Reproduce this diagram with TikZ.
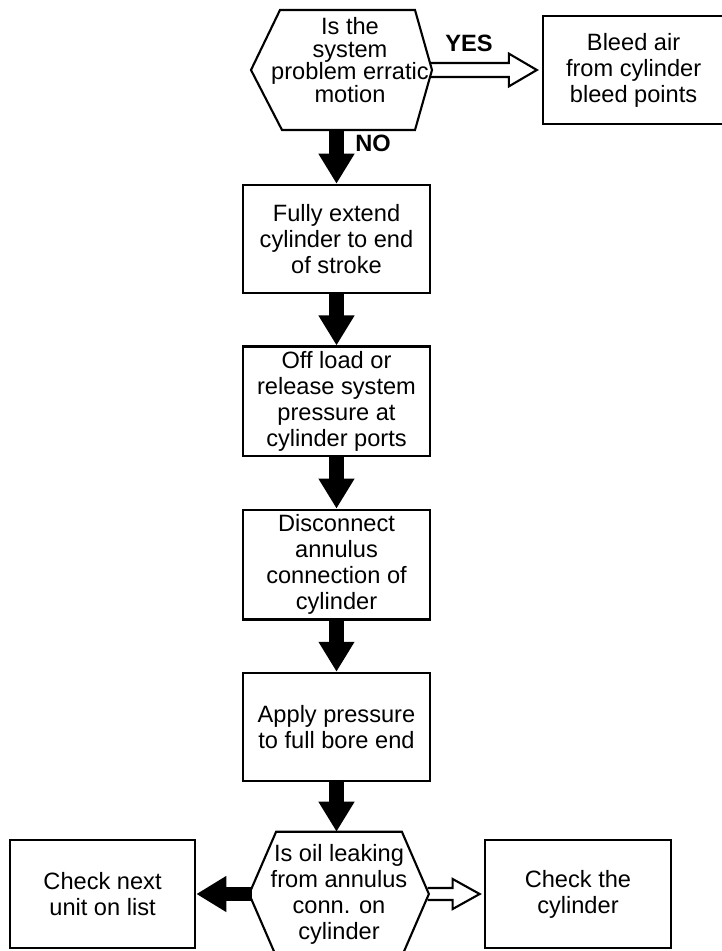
\documentclass[tikz,border=0pt]{standalone}
\usepackage{fontspec}
\setmainfont{Liberation Sans}
\usetikzlibrary{positioning, arrows.meta, calc}

\begin{document}
\begin{tikzpicture}
  \tikzset{
    stepbox/.style={
      draw,
      line width=1.8pt,
      minimum width=4.675cm,
      minimum height=2.7cm,
      anchor=center,
      align=center,
      font=\fontsize{16.8}{18.5}\selectfont
    },
    question/.style={
      inner sep=0pt,
      anchor=center,
      align=center,
      font=\fontsize{16.8}{18.5}\selectfont
    },
    outline/.style={
      draw,
      line width=1.5pt,
      line join=miter
    },
    fatarrow/.style={
      line width=0.36cm,
      -{Triangle[length=0.75cm,width=0.85cm]}
    },
    hollowarrow/.style={
      draw,
      line width=1.5pt,
      line join=miter
    },
    answer/.style={
      font=\fontsize{16.8}{18.5}\selectfont\bfseries
    }
  }

  \useasboundingbox (0,0) rectangle (18.05,-23.775);

  % First question
  \node[question, font=\fontsize{16.8}{16}\selectfont] at (8.75, -1.5) (ask) {
      Is the\\system\\problem erratic\\motion
  };
  \coordinate (askS) at ($(ask.center)+(0,-1.75)$);
  \coordinate (askR) at ($(ask.center)+(2.05,-0.25)$);
  \draw[outline] ($(ask.center)+(-2.475,-0.25)$) -- ($(ask.center)+(-1.75,1.25)$)
    -- ($(ask.center)+(1.625,1.25)$) -- (askR)
    -- ($(ask.center)+(1.625,-1.75)$) -- ($(ask.center)+(-1.7,-1.75)$) -- cycle;

  \node[stepbox, minimum width=4.525cm] at (15.84, -1.75) (bleed) {
      Bleed air\\from cylinder\\bleed points
  };

  % The steps
  \node[stepbox] at (8.4125, -5.975) (fully) {
      Fully extend\\cylinder to end\\of stroke
  };
  \node[stepbox, below=1.28cm of fully] (offload) {
      Off load or\\release system\\pressure at\\cylinder ports
  };
  \node[stepbox, below=1.28cm of offload] (disc) {
      Disconnect\\annulus\\connection of\\cylinder
  };
  \node[stepbox, below=1.28cm of disc] (apply) {
      Apply pressure\\to full bore end
  };

  % Second question
  \node[question, minimum width=4.48cm, minimum height=3.1cm] at (8.475, -22.35) (leak) {
      Is oil leaking\\from annulus\\conn. on\\cylinder
  };
  \draw[outline] (leak.west) -- ([xshift=0.675cm]leak.north west)
    -- ([xshift=-0.675cm]leak.north east) -- (leak.east)
    -- ([xshift=-0.675cm]leak.south east) -- ([xshift=0.675cm]leak.south west) -- cycle;

  \node[stepbox, minimum width=4.625cm, left=1.32cm of leak] (next) {
      Check next\\unit on list
  };
  \node[stepbox, minimum width=4.65cm, right=1.37cm of leak] (cyl) {
      Check the\\cylinder
  };

  % Arrows
  \draw[fatarrow] (askS -| fully.north) -- (fully.north);
  \draw[fatarrow] (fully) -- (offload);
  \draw[fatarrow] (offload) -- (disc);
  \draw[fatarrow] (disc) -- (apply);
  \draw[fatarrow] (apply.south) -- (apply.south |- leak.north);
  \draw[fatarrow] ([xshift=0.08cm]leak.west) -- (next.east);

  \draw[hollowarrow] ($(askR)+(-0.05,0.175)$) -- ($(bleed.west)+(-0.825,0.175)$)
    -- ($(bleed.west)+(-0.825,0.41)$) -- ($(bleed.west)+(-0.125,0)$)
    -- ($(bleed.west)+(-0.825,-0.41)$) -- ($(bleed.west)+(-0.825,-0.175)$)
    -- ($(askR)+(-0.05,-0.175)$);
  \draw[hollowarrow] ($(leak.east)+(-0.03,0.15)$) -- ($(cyl.west)+(-0.775,0.15)$)
    -- ($(cyl.west)+(-0.775,0.375)$) -- ($(cyl.west)+(-0.1,0)$)
    -- ($(cyl.west)+(-0.775,-0.375)$) -- ($(cyl.west)+(-0.775,-0.15)$)
    -- ($(leak.east)+(-0.03,-0.15)$);

  % Answers
  \node[answer] at (11.725, -1.075) (yes) {YES};
  \node[answer] at (9.325, -3.575) (no) {NO};

\end{tikzpicture}
\end{document}
